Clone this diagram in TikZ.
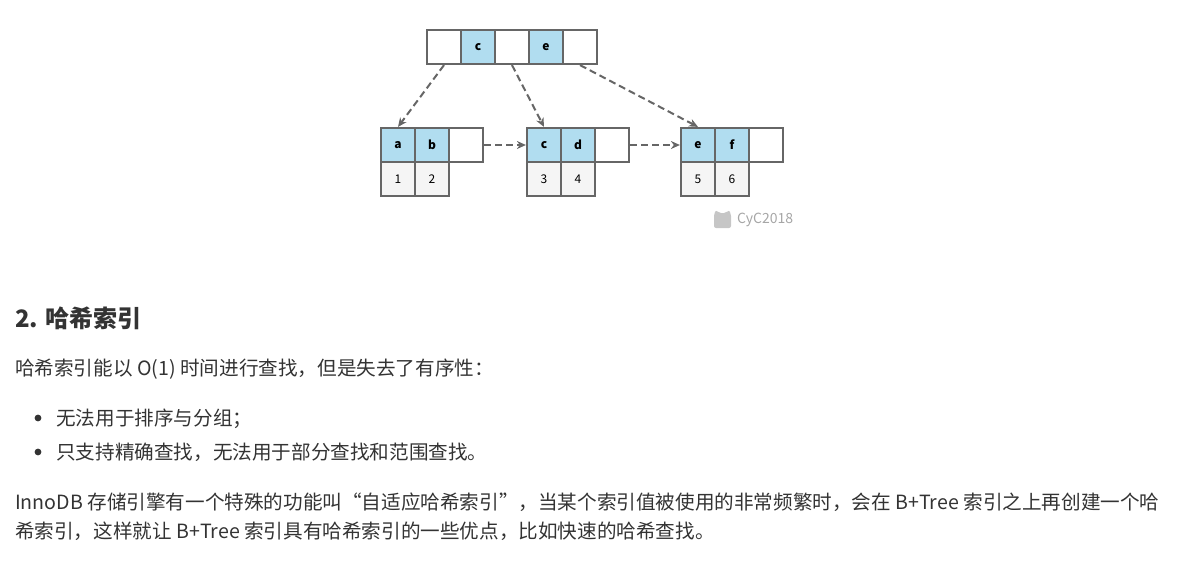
\documentclass[tikz,border=0pt]{standalone}
\usepackage{fontspec}
\setmainfont{Noto Sans CJK SC}
\usetikzlibrary{arrows.meta}
\definecolor{keyblue}{HTML}{B1DDF0}
\definecolor{valgray}{HTML}{F5F5F5}
\definecolor{edgegray}{HTML}{666666}
\definecolor{txt}{HTML}{333333}

\begin{document}
\begin{tikzpicture}[x=1pt, y=-1pt, >={Stealth[length=9pt, width=8pt]},
    cell/.style={draw=edgegray, line width=2.2pt, minimum size=34pt, inner sep=0pt, font=\fontsize{12}{12}\selectfont\bfseries},
    key/.style={cell, fill=keyblue},
    val/.style={cell, fill=valgray, font=\fontsize{12}{12}\selectfont},
    ptr/.style={->, dash pattern=on 7pt off 4pt, edgegray, line width=2pt},
    body/.style={anchor=base west, inner sep=0pt, text=txt, font=\fontsize{19.6}{19.6}\selectfont}]

    \useasboundingbox (0,0) rectangle (1184,570);

    % root node
    \node[cell] (t1) at (444,47) {};
    \node[key] (t2) at (478,47) {c};
    \node[cell] (t3) at (512,47) {};
    \node[key] (t4) at (546,47) {e};
    \node[cell] (t5) at (580,47) {};

    % leaves
    \foreach \n/\x/\ka/\kb/\va/\vb in {a/398/a/b/1/2, c/544/c/d/3/4, e/698/e/f/5/6} {
        \node[key] (\n1) at (\x,145) {\ka};
        \node[key] (\n2) at (\x+34,145) {\kb};
        \node[cell] (\n3) at (\x+68,145) {};
        \node[val] (\n4) at (\x,179) {\va};
        \node[val] (\n5) at (\x+34,179) {\vb};
    }

    \draw[ptr] (t1.south) -- (a1.north);
    \draw[ptr] (t3.south) -- (c1.north);
    \draw[ptr] (t5.south) -- (e1.north);
    \draw[ptr] (a3.east) -- (c1.west);
    \draw[ptr] (c3.east) -- (e1.west);

    % watermark
    \fill[gray!45, rounded corners=2pt] (714,214) -- (716,210) -- (719,213) -- (726,213) -- (729,210) -- (731,214) -- (731,228) -- (714,228) -- cycle;
    \node[anchor=west, inner sep=0pt, text=gray!70, font=\fontsize{14}{14}\selectfont] (wm) at (737,220) {CyC2018};

    % text
    \node[body, font=\fontsize{24}{24}\selectfont\bfseries] (h2) at (15,327) {2. 哈希索引};
    \node[body] (p1) at (15,375) {哈希索引能以 O(1) 时间进行查找，但是失去了有序性：};
    \fill[txt] (38,418) circle (3.4pt);
    \node[body] (b1) at (56,425) {无法用于排序与分组；};
    \fill[txt] (38,452) circle (3.4pt);
    \node[body] (b2) at (56,459) {只支持精确查找，无法用于部分查找和范围查找。};
    \node[body] (p2) at (15,509) {InnoDB 存储引擎有一个特殊的功能叫“自适应哈希索引”，当某个索引值被使用的非常频繁时，会在 B+Tree 索引之上再创建一个哈};
    \node[body] (p3) at (15,538) {希索引，这样就让 B+Tree 索引具有哈希索引的一些优点，比如快速的哈希查找。};
\end{tikzpicture}
\end{document}
